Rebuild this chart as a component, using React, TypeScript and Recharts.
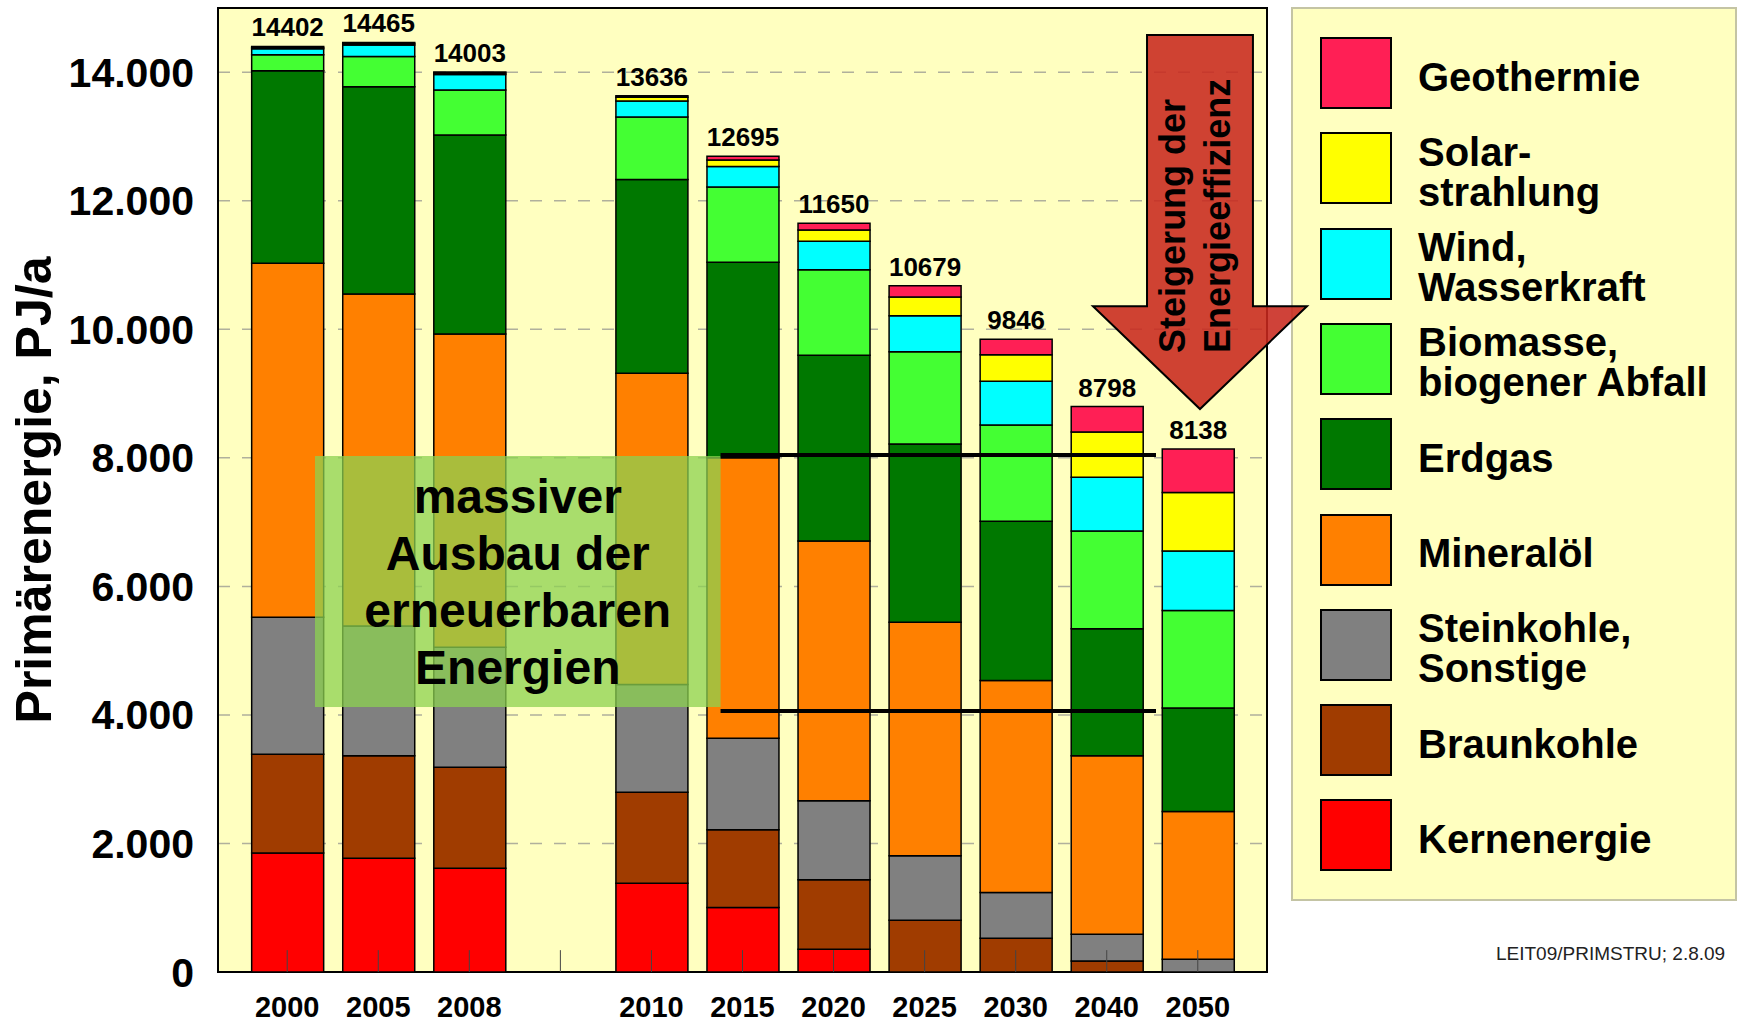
import React from 'react';
import {
  BarChart, Bar, XAxis, YAxis, CartesianGrid, LabelList, Legend,
  ReferenceArea, ReferenceLine,
} from 'recharts';

// column slots: an empty slot sits between 2008 and 2010
const YEARS = ['2000', '2005', '2008', '2010', '2015', '2020', '2025', '2030', '2040', '2050'];
const SLOTS = [0, 1, 2, 4, 5, 6, 7, 8, 9, 10];
const ALL_SLOTS = [0, 1, 2, 3, 4, 5, 6, 7, 8, 9, 10];
const TOTALS = [14402, 14465, 14003, 13636, 12695, 11650, 10679, 9846, 8798, 8138];

// PJ/a per energy carrier
const KERN = [1850, 1770, 1615, 1380, 1003, 353, 0, 0, 0, 0];
const BRAUN = [1540, 1595, 1570, 1415, 1210, 1081, 805, 525, 171, 0];
const STEIN = [2130, 2020, 1870, 1680, 1423, 1231, 1003, 711, 416, 197];
const MINERAL = [5510, 5163, 4872, 4842, 4364, 4041, 3636, 3299, 2779, 2302];
const ERDGAS = [2994, 3227, 3098, 3014, 3043, 2889, 2771, 2478, 1974, 1610];
const BIO = [250, 472, 700, 971, 1172, 1334, 1437, 1498, 1522, 1517];
const WIND = [90, 176, 239, 249, 320, 441, 561, 680, 835, 925];
const SOLAR = [22, 25, 25, 60, 100, 176, 290, 415, 705, 912];
const GEO = [16, 17, 14, 25, 60, 104, 176, 240, 396, 675];

const Y_TICKS = [0, 2000, 4000, 6000, 8000, 10000, 12000, 14000];
const Y_MINOR = [1000, 2000, 3000, 4000, 5000, 6000, 7000, 8000, 9000, 10000, 11000, 12000, 13000, 14000];

const SERIES = [
  { key: 'kern', lines: ['Kernenergie'], color: '#ff0000', values: KERN },
  { key: 'braun', lines: ['Braunkohle'], color: '#a03c00', values: BRAUN },
  { key: 'stein', lines: ['Steinkohle,', 'Sonstige'], color: '#808080', values: STEIN },
  { key: 'mineral', lines: ['Mineralöl'], color: '#ff8000', values: MINERAL },
  { key: 'erdgas', lines: ['Erdgas'], color: '#007800', values: ERDGAS },
  { key: 'bio', lines: ['Biomasse,', 'biogener Abfall'], color: '#44ff33', values: BIO },
  { key: 'wind', lines: ['Wind,', 'Wasserkraft'], color: '#00ffff', values: WIND },
  { key: 'solar', lines: ['Solar-', 'strahlung'], color: '#ffff00', values: SOLAR },
  { key: 'geo', lines: ['Geothermie'], color: '#ff1f55', values: GEO },
];

const data = YEARS.map((year, i) => {
  const row: Record<string, number | string> = { year, slot: SLOTS[i], total: TOTALS[i] };
  SERIES.forEach((s) => { row[s.key] = s.values[i]; });
  return row;
});

const X_DOMAIN = [-0.76, 10.76];
const Y_MAX = 15000;
const TICK_LEN = 340; // inward x tick length, in PJ/a
const FONT = '"Liberation Sans", Arial, Helvetica, sans-serif';
const BG = '#ffffc0';

// annotations (axis units)
const BOX = { x1: 0.305, x2: 4.759, y1: 4123, y2: 8029 };
const BOX_TEXT = ['massiver', 'Ausbau der', 'erneuerbaren', 'Energien'];
const BAND = { x1: 4.759, x2: 9.541, lo: 4061, hi: 8045 };
const ARROW = { x1: 8.849, x2: 11.199, y1: 8760, y2: 14580 };

const fmtY = (v: number) => (v === 0 ? '0' : `${v / 1000}.000`);
const fmtX = (v: number) => {
  const i = SLOTS.indexOf(v);
  return i >= 0 ? YEARS[i] : '';
};

function YTitle(props: any) {
  const vb = props.viewBox || { x: 0, y: 8, width: 218, height: 964 };
  const cx = vb.x + 51;
  const cy = vb.y + vb.height / 2;
  return (
    <text transform={`translate(${cx},${cy}) rotate(-90)`} textAnchor="middle"
      fontSize={50} fontWeight="bold" fill="#000">
      Primärenergie, PJ/a
    </text>
  );
}

// drawn from a diagonal reference segment so it sits above the bars
const BoxShape = (p: any) => {
  const x = Math.min(p.x1, p.x2);
  const y = Math.min(p.y1, p.y2);
  const width = Math.abs(p.x2 - p.x1);
  const height = Math.abs(p.y2 - p.y1);
  const cx = x + width / 2;
  const cy = y + height / 2;
  return (
    <g>
      <rect x={x} y={y} width={width} height={height} fill="#8cd250" fillOpacity={0.75} />
      {BOX_TEXT.map((t, i) => (
        <text key={t} x={cx} y={cy + (i - 1.5) * 57 + 17} textAnchor="middle"
          fontSize={48} fontWeight="bold" fill="#000">{t}</text>
      ))}
    </g>
  );
};

const ArrowShape = (p: any) => {
  const { x, y, width, height } = p;
  const cx = x + width / 2;
  const sh = (width / 2) * 0.495;
  const shoulder = y + height * 0.725;
  const pts = [
    [cx - sh, y], [cx + sh, y], [cx + sh, shoulder], [x + width, shoulder],
    [cx, y + height], [x, shoulder], [cx - sh, shoulder],
  ].map((q) => q.join(',')).join(' ');
  const ty = y + height * 0.85;
  return (
    <g>
      <polygon points={pts} fill="#c8281e" fillOpacity={0.88} stroke="#000" strokeWidth={2} />
      <text transform={`translate(${cx - 15},${ty}) rotate(-90)`} fontSize={36} fontWeight="bold" fill="#000">
        Steigerung der
      </text>
      <text transform={`translate(${cx + 30},${ty}) rotate(-90)`} fontSize={36} fontWeight="bold" fill="#000">
        Energieeffizienz
      </text>
    </g>
  );
};

function LegendBox(props: any) {
  const payload: any[] = props.payload || [];
  const items = [...SERIES].reverse();
  return (
    <div style={{
      position: 'relative', width: 446, height: 894, boxSizing: 'border-box',
      background: BG, border: '2px solid #c4c4a4', fontFamily: FONT,
    }}>
      {items.map((s, i) => {
        const entry = payload.find((e) => e.dataKey === s.key);
        const color = (entry && entry.color) || s.color;
        return (
          <div key={s.key} style={{
            position: 'absolute', left: 27, top: 28 + i * 95.3, height: 72,
            display: 'flex', alignItems: 'center',
          }}>
            <div style={{
              width: 72, height: 72, boxSizing: 'border-box', background: color,
              border: '2px solid #000',
            }} />
            <div style={{
              marginLeft: 26, marginTop: 7, fontSize: 40, fontWeight: 'bold', lineHeight: '40px',
              whiteSpace: 'nowrap', color: '#000',
            }}>
              {s.lines.map((l) => <div key={l}>{l}</div>)}
            </div>
          </div>
        );
      })}
    </div>
  );
}

export default function App() {
  return (
    <div style={{ position: 'absolute', left: 0, top: 0, width: 1738, height: 1023, zIndex: 0, fontFamily: FONT, background: '#fff' }}>
      <BarChart width={1738} height={1023} data={data}
        margin={{ top: 8, right: 471, bottom: 0, left: 0 }}>
        <CartesianGrid vertical={false} stroke="#b0b09c" strokeDasharray="12 12" strokeWidth={1.5} fill={BG} />
        <XAxis dataKey="slot" type="number" domain={X_DOMAIN} ticks={SLOTS} interval={0}
          tickFormatter={fmtX} tickLine={false} axisLine={false} tickSize={0} tickMargin={24}
          height={51} tick={{ fontSize: 29, fontWeight: 'bold', fill: '#000' }} />
        <YAxis type="number" domain={[0, Y_MAX]} ticks={Y_TICKS} interval={0} tickFormatter={fmtY}
          width={218} tickLine={false} axisLine={false} tickSize={0} tickMargin={24}
          tick={{ fontSize: 41, fontWeight: 'bold', fill: '#000' }} label={<YTitle />} />
        <YAxis yAxisId="minor" type="number" domain={[0, Y_MAX]} ticks={Y_MINOR} interval={0}
          mirror tick={false} tickSize={11} axisLine={false} width={0} allowDataOverflow
          tickLine={{ stroke: '#555', strokeWidth: 1.2 }} />
        {SERIES.map((s, idx) => (
          <Bar key={s.key} dataKey={s.key} name={s.lines.join(' ')} stackId="a" fill={s.color}
            stroke="#000" strokeWidth={1.5} barSize={72} isAnimationActive={false}>
            {idx === SERIES.length - 1 && (
              <LabelList dataKey="total" position="top" offset={10} fill="#000"
                fontSize={26} fontWeight="bold" />
            )}
          </Bar>
        ))}
        {ALL_SLOTS.map((s) => (
          <ReferenceLine key={`t${s}`} segment={[{ x: s, y: 0 }, { x: s, y: TICK_LEN }]}
            stroke="#444" strokeWidth={1} />
        ))}
        <ReferenceArea x1={X_DOMAIN[0]} x2={X_DOMAIN[1]} y1={0} y2={Y_MAX}
          fill="none" stroke="#000" strokeWidth={2} />
        <ReferenceLine segment={[{ x: BOX.x1, y: BOX.y2 }, { x: BOX.x2, y: BOX.y1 }]}
          shape={BoxShape} />
        <ReferenceLine segment={[{ x: BAND.x1, y: BAND.hi }, { x: BAND.x2, y: BAND.hi }]}
          stroke="#000" strokeWidth={4} />
        <ReferenceLine segment={[{ x: BAND.x1, y: BAND.lo }, { x: BAND.x2, y: BAND.lo }]}
          stroke="#000" strokeWidth={4} />
        <ReferenceArea x1={ARROW.x1} x2={ARROW.x2} y1={ARROW.y1} y2={ARROW.y2}
          ifOverflow="visible" shape={ArrowShape} />
        <Legend layout="horizontal" verticalAlign="middle" align="center"
          wrapperStyle={{ left: 1291, top: 7, width: 446, height: 894, zIndex: -1 }}
          content={(p: any) => <LegendBox payload={p.payload} />} />
      </BarChart>
      <div style={{
        position: 'absolute', left: 1496, top: 944, fontSize: 19, lineHeight: '19px',
        color: '#222', whiteSpace: 'nowrap',
      }}>
        LEIT09/PRIMSTRU; 2.8.09
      </div>
    </div>
  );
}
